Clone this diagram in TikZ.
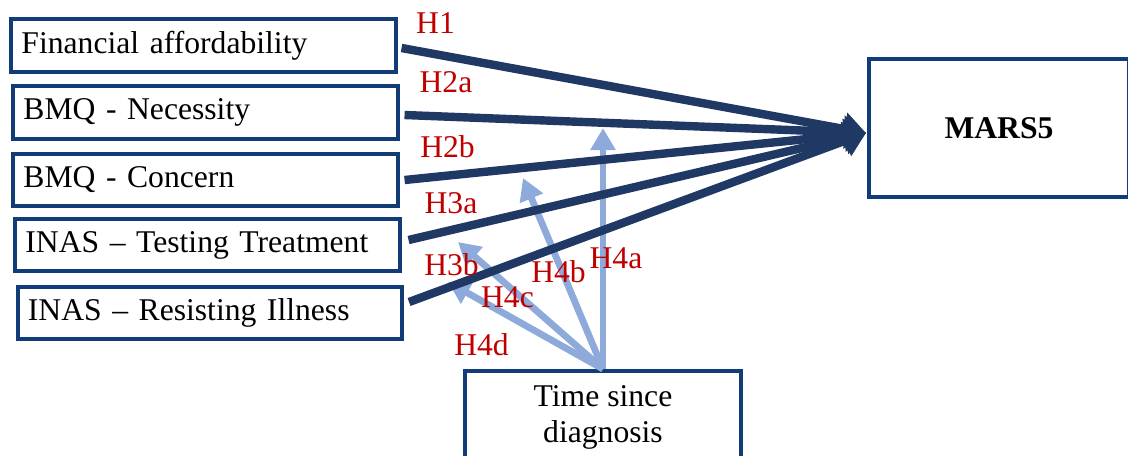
\documentclass[tikz,border=0pt]{standalone}
\usepackage{fontspec}
\setmainfont{Liberation Serif}
\usetikzlibrary{arrows.meta,calc}
\definecolor{boxblue}{RGB}{18,60,120}
\definecolor{pathnavy}{RGB}{31,56,100}
\definecolor{modblue}{RGB}{142,170,219}
\definecolor{hypred}{RGB}{192,0,0}
\def\diagfont{\rmfamily\fontsize{22.5}{25.6}\selectfont}

\begin{document}
\begin{tikzpicture}[x=0.025cm,y=-0.025cm,
    var/.style={draw=boxblue,line width=1mm,minimum height=1.3cm,text width=9.1cm,inner xsep=0.25cm,
                align=left,font=\diagfont},
    cause/.style={pathnavy,line width=0.21cm,-{Triangle[length=0.55cm,width=0.8cm]}},
    moderate/.style={modblue,line width=0.17cm,-{Triangle[length=0.55cm,width=0.6cm]}},
    hyp/.style={text=hypred,font=\diagfont,anchor=base,inner sep=0pt}]
   \useasboundingbox (0,0) rectangle (1128,455);
   % predictors
   \node (fin)  at (203.5,45.5) [var] {Financial affordability};
   \node (nec)  at (205.5,112.5) [var] {BMQ - Necessity};
   \node (con)  at (205.5,180) [var] {BMQ - Concern};
   \node (test) at (207.5,245) [var] {INAS -- Testing Treatment};
   \node (res)  at (210,313) [var] {INAS -- Resisting Illness};
   % outcome and moderator
   \node (mars) at (999,128) [draw=boxblue,line width=1mm,minimum width=6.5cm,minimum height=3.45cm,font=\diagfont\bfseries] {MARS5};
   \node (time) at (603,417) [draw=boxblue,line width=1mm,minimum width=6.9cm,minimum height=2.3cm,align=center,font=\diagfont] {Time since\\diagnosis};
   \coordinate (hub) at ($(mars.west)+(-1,5)$);
   \coordinate (t4a) at (603,128);
   \coordinate (t4b) at (523,178);
   \coordinate (t4c) at (458,242);
   \coordinate (t4d) at (448,282);
   % moderation paths first, main paths on top
   \draw[moderate] (time.north) -- (t4a);
   \draw[moderate] (time.north) -- (t4b);
   \draw[moderate] (time.north) -- (t4c);
   \draw[moderate] (time.north) -- (t4d);
   \draw[cause] ($(fin.east)+(4,2.5)$) -- (hub);
   \draw[cause] ($(nec.east)+(5,2.5)$) -- (hub);
   \draw[cause] ($(con.east)+(5,0)$) -- (hub);
   \draw[cause] ($(test.east)+(7,-5)$) -- (hub);
   \draw[cause] ($(res.east)+(5,-11)$) -- (hub);
   % hypothesis labels
   \node (lh1)  at (435.5,33) [hyp] {H1};
   \node (lh2a) at (446,92) [hyp] {H2a};
   \node (lh2b) at (447.5,157) [hyp] {H2b};
   \node (lh3a) at (451,213) [hyp] {H3a};
   \node (lh3b) at (451.5,275) [hyp] {H3b};
   \node (lh4c) at (507.5,307) [hyp] {H4c};
   \node (lh4b) at (558.5,282) [hyp] {H4b};
   \node (lh4a) at (616,268) [hyp] {H4a};
   \node (lh4d) at (481.5,355) [hyp] {H4d};
\end{tikzpicture}
\end{document}
